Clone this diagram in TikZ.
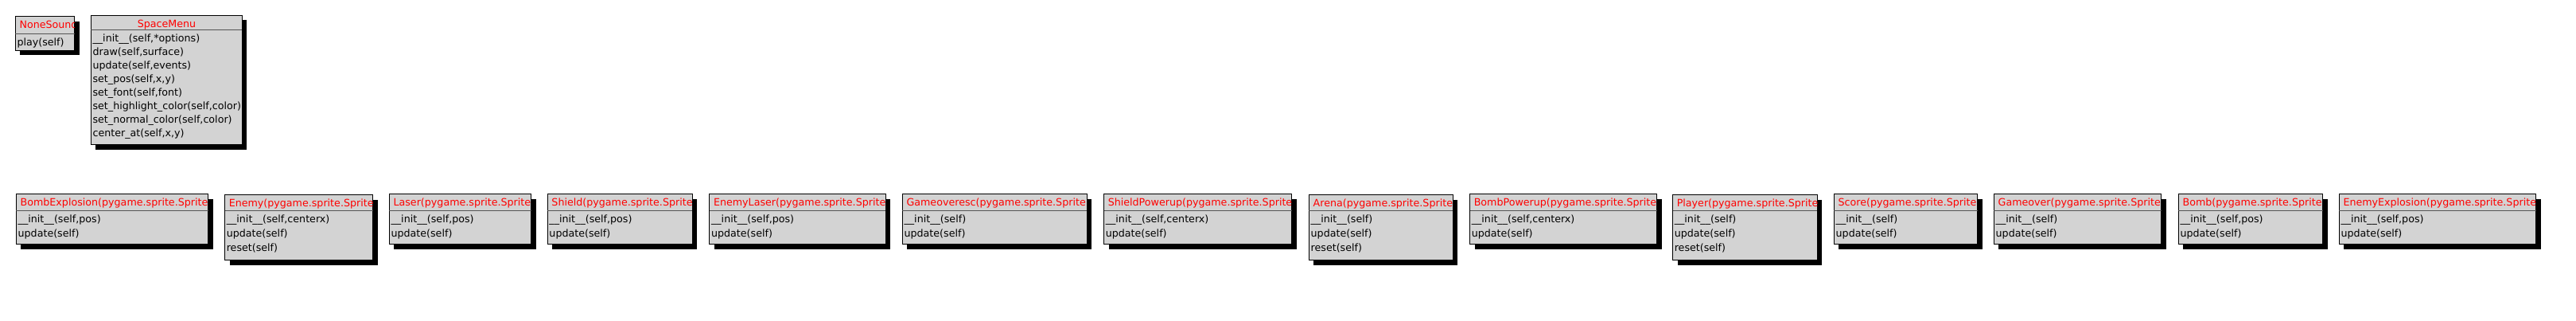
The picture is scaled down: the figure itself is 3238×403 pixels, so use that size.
\documentclass[tikz,border=0pt]{standalone}
\usepackage{fontspec}
\setmainfont{DejaVu Sans}
\usepackage{tikz}
\definecolor{boxgray}{HTML}{D3D3D3}
\definecolor{titlered}{HTML}{FF0000}
\definecolor{sepgray}{HTML}{555555}
\newcommand{\classfont}{\fontsize{9.5pt}{12pt}\selectfont}
\newcommand{\rowskip}{17}
\tikzset{
	classbox/.style={draw=black, fill=boxgray, line width=0.75pt},
	classshadow/.style={fill=black},
	classsep/.style={draw=sepgray, line width=0.75pt},
	classtitle/.style={anchor=base west, inner xsep=3.75pt, inner ysep=0pt, text=titlered, font=\classfont},
	classmethod/.style={anchor=base west, inner sep=0pt, text=black, font=\classfont}
}
\newcommand{\umlclass}[8]{
	\fill[classshadow, shift={(6,6)}] (#2,#4) rectangle (#3,#6);
	\draw[classbox] (#2,#4) rectangle (#3,#6);
	\draw[classsep] (#2,#5) -- (#3,#5);
	\begin{scope}
	\clip (#2,#4) rectangle (#3,#5);
	\node[classtitle, minimum width={(#3-#2)*0.75pt}] (#1-title) at (#2,{#4+15}) {#7};
	\end{scope}
	\foreach \m [count=\i] in {#8}
		\node[classmethod] (#1-m\i) at ({#2+2},{#5+15+(\i-1)*\rowskip}) {\m};
}

\begin{document}
\begin{tikzpicture}[x=0.75pt,y=-0.75pt]
	\useasboundingbox (0,0) rectangle (3238,403);

	\umlclass{nonesound}{19.3}{93.7}{20.7}{42.3}{63.3}{NoneSound}{{play(self)}}
	\umlclass{spacemenu}{114.3}{304.3}{19.3}{37.3}{181.7}{SpaceMenu}{{\_\_init\_\_(self,*options)},{draw(self,surface)},{update(self,events)},{set\_pos(self,x,y)},{set\_font(self,font)},{set\_highlight\_color(self,color)},{set\_normal\_color(self,color)},{center\_at(self,x,y)}}

	\renewcommand{\rowskip}{18}
	\umlclass{bombexplosion}{20.4}{261.8}{243.6}{264.6}{306.5}{BombExplosion(pygame.sprite.Sprite}{{\_\_init\_\_(self,pos)},{update(self)}}
	\umlclass{enemy}{282.5}{468.9}{244.6}{264.6}{326.5}{Enemy(pygame.sprite.Sprite}{{\_\_init\_\_(self,centerx)},{update(self)},{reset(self)}}
	\umlclass{laser}{489.3}{667.5}{243.6}{264.6}{306.5}{Laser(pygame.sprite.Sprite}{{\_\_init\_\_(self,pos)},{update(self)}}
	\umlclass{shield}{688.2}{870.4}{243.6}{264.6}{306.5}{Shield(pygame.sprite.Sprite}{{\_\_init\_\_(self,pos)},{update(self)}}
	\umlclass{enemylaser}{891.8}{1113.2}{243.6}{264.6}{306.5}{EnemyLaser(pygame.sprite.Sprite}{{\_\_init\_\_(self,pos)},{update(self)}}
	\umlclass{gameoveresc}{1134.3}{1366.4}{243.6}{264.6}{306.5}{Gameoveresc(pygame.sprite.Sprite}{{\_\_init\_\_(self)},{update(self)}}
	\umlclass{shieldpowerup}{1387.5}{1623.6}{243.6}{264.6}{306.5}{ShieldPowerup(pygame.sprite.Sprite}{{\_\_init\_\_(self,centerx)},{update(self)}}
	\umlclass{arena}{1645.4}{1826.4}{244.6}{264.6}{326.5}{Arena(pygame.sprite.Sprite}{{\_\_init\_\_(self)},{update(self)},{reset(self)}}
	\umlclass{bombpowerup}{1847.5}{2082.5}{243.6}{264.6}{306.5}{BombPowerup(pygame.sprite.Sprite}{{\_\_init\_\_(self,centerx)},{update(self)}}
	\umlclass{player}{2102.5}{2284.3}{244.6}{264.6}{326.5}{Player(pygame.sprite.Sprite}{{\_\_init\_\_(self)},{update(self)},{reset(self)}}
	\umlclass{score}{2305.4}{2485.7}{243.6}{264.6}{306.5}{Score(pygame.sprite.Sprite}{{\_\_init\_\_(self)},{update(self)}}
	\umlclass{gameover}{2506.4}{2716.8}{243.6}{264.6}{306.5}{Gameover(pygame.sprite.Sprite}{{\_\_init\_\_(self)},{update(self)}}
	\umlclass{bomb}{2738.3}{2919.6}{243.6}{264.6}{306.5}{Bomb(pygame.sprite.Sprite}{{\_\_init\_\_(self,pos)},{update(self)}}
	\umlclass{enemyexplosion}{2940.2}{3187.6}{243.6}{264.6}{306.5}{EnemyExplosion(pygame.sprite.Sprite}{{\_\_init\_\_(self,pos)},{update(self)}}
\end{tikzpicture}
\end{document}
